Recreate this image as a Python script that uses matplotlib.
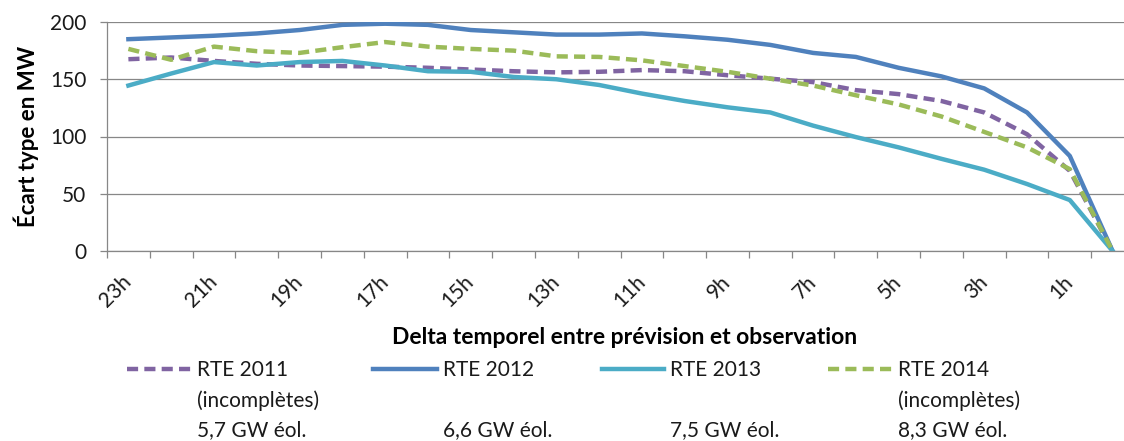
import numpy as np
import matplotlib
matplotlib.use('Agg')
import matplotlib.pyplot as plt

plt.rcParams['font.family'] = ['Lato', 'DejaVu Sans']

# heures avant l'observation (23h -> 0h)
hours = [f'{h}h' for h in range(23, -1, -1)]

rte_2011 = [167.5, 169, 166, 163.5, 162, 161.5, 161, 160, 158.5, 157, 156, 156.5,
            158, 157, 153.5, 150.5, 147.5, 140.5, 137, 131, 121, 102, 70, 0]
rte_2012 = [185, 186.5, 188, 190, 193, 197.5, 198.5, 197.5, 193, 191, 189, 189,
            190, 187.5, 184.5, 180, 173, 169.5, 160, 152.5, 142, 121, 83, 0]
rte_2013 = [144.5, 155, 165, 162, 165, 166, 162, 157, 156.5, 152, 150, 145,
            137.5, 131, 125.5, 121, 109.5, 99.5, 90.5, 80.5, 71, 58.5, 44.5, 0]
rte_2014 = [176.5, 167, 178.5, 174.5, 173, 178, 182.5, 178.5, 176.5, 175, 170, 169.5,
            166.5, 161.5, 156.5, 150.5, 144.5, 136, 128, 117.5, 104, 90.5, 71.5, 0]

series_names = ['RTE 2011', 'RTE 2012', 'RTE 2013', 'RTE 2014']
series_notes = ['(incomplètes)', '', '', '(incomplètes)']
series_power = ['5,7 GW éol.', '6,6 GW éol.', '7,5 GW éol.', '8,3 GW éol.']
colors = ['#8064A2', '#4F81BD', '#4BACC6', '#9BBB59']
dashed = [True, False, False, True]

W, H = 1124, 441
fig = plt.figure(figsize=(W / 100, H / 100), dpi=100)
ax = fig.add_axes([107 / W, (H - 251) / H, (1134 - 107) / W, 229 / H])

x = np.arange(len(hours))
lines = []
for vals, col, dsh in zip([rte_2011, rte_2012, rte_2013, rte_2014], colors, dashed):
    ln, = ax.plot(x, vals, color=col, lw=3.2, solid_joinstyle='round')
    if dsh:
        ln.set_dashes((2.5, 1.4))
    lines.append(ln)

ax.set_xlim(-0.5, len(hours) - 0.5)
ax.set_ylim(0, 200)
ax.set_yticks([0, 50, 100, 150, 200])
ax.grid(axis='y', color='#878787', lw=0.9)
ax.set_axisbelow(True)
for s in ['top', 'right']:
    ax.spines[s].set_visible(False)
for s in ['left', 'bottom']:
    ax.spines[s].set_color('#878787')
    ax.spines[s].set_linewidth(0.9)

ax.tick_params(axis='y', length=5, width=0.9, color='#878787', pad=10,
               labelsize=15, labelcolor='#1a1a1a')
# ticks between categories, labels every other hour
ax.set_xticks(np.arange(-0.5, len(hours), 1))
ax.set_xticklabels([])
ax.tick_params(axis='x', which='major', length=5, width=0.9, color='#878787')
ax.set_xticks(x[::2], hours[::2], minor=True)
ax.tick_params(axis='x', which='minor', length=0, pad=20, labelsize=15,
               labelcolor='#1a1a1a')
for lab in ax.get_xticklabels(minor=True):
    lab.set_rotation(45)
    lab.set_ha('right')
    lab.set_va('center')
    lab.set_rotation_mode('anchor')

ax.set_ylabel('Écart type en MW', fontsize=16, fontweight='bold')
ax.yaxis.set_label_coords(-0.066, 0.5)
ax.set_xlabel('Delta temporel entre prévision et observation', fontsize=16.5,
              fontweight='bold')
ax.xaxis.set_label_coords((625 - 107) / (1134 - 107), -0.33)

# légende à la manière d'Excel
handle_x = [127, 373, 602, 828]
text_x = [197, 443, 670, 898]
fs = 15
for ln, name, note, pw, hx, tx in zip(lines, series_names, series_notes, series_power,
                                       handle_x, text_x):
    hl = (tx - hx - 6) / (fs * 100 / 72)
    leg = fig.legend([ln], [name], loc='center left', bbox_to_anchor=(hx / W, (H - 370) / H),
                     frameon=False, borderpad=0, borderaxespad=0, fontsize=fs,
                     handlelength=hl, handletextpad=6 / (fs * 100 / 72))
    for t in leg.get_texts():
        t.set_color('#1a1a1a')
    if note:
        fig.text(tx / W, (H - 401) / H, note, fontsize=fs, color='#1a1a1a', va='center')
    fig.text(tx / W, (H - 430) / H, pw, fontsize=fs, color='#1a1a1a', va='center')

fig.savefig('out.png', dpi=100)
